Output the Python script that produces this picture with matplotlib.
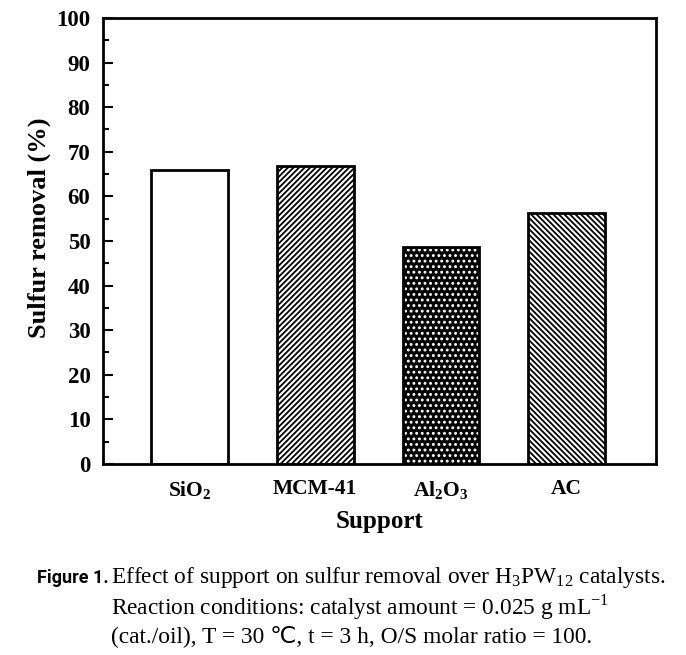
import matplotlib.pyplot as plt
from matplotlib import font_manager
from matplotlib.ticker import MultipleLocator

# Data
supports = ['SiO$_\\mathbf{2}$', 'MCM-41', 'Al$_\\mathbf{2}$O$_\\mathbf{3}$', 'AC']
removal = [66.0, 66.8, 48.6, 56.3]
hatches = ['', '//////', '...', '\\\\\\\\\\\\']
faces = ['white', 'white', 'black', 'white']
hatch_cols = ['black', 'black', 'white', 'black']

plt.rcParams['font.family'] = 'Liberation Serif'
plt.rcParams['mathtext.fontset'] = 'custom'
plt.rcParams['mathtext.rm'] = 'Liberation Serif'
plt.rcParams['mathtext.bf'] = 'Liberation Serif:bold'
plt.rcParams['hatch.linewidth'] = 1.3

# narrow sans for the "Figure 1." tag, if available
installed = {f.name for f in font_manager.fontManager.ttflist}
tag_font = 'Liberation Sans Narrow' if 'Liberation Sans Narrow' in installed else 'Roboto'

fig = plt.figure(figsize=(6.86, 6.55), dpi=100)
ax = fig.add_axes([0.150, 0.2916, 0.806, 0.681])

x = list(range(len(supports)))
for i in x:
    # hatch drawn in edge colour, then a black outline on top
    ax.bar(i, removal[i], width=0.61, color=faces[i], edgecolor=hatch_cols[i],
           hatch=hatches[i], linewidth=0)
    ax.bar(i, removal[i], width=0.61, fill=False, edgecolor='black', linewidth=2)

ax.set_xlim(-0.69, 3.71)
ax.set_ylim(0, 100)
ax.yaxis.set_major_locator(MultipleLocator(10))
ax.yaxis.set_minor_locator(MultipleLocator(5))
ax.tick_params(axis='y', which='both', direction='in', width=1.5, pad=9)
ax.tick_params(axis='y', which='major', length=7)
ax.tick_params(axis='y', which='minor', length=4)
ax.tick_params(axis='x', length=0, pad=11)
ax.set_xticks(x)
ax.set_xticklabels(supports, fontsize=15.5, fontweight='bold')
for lab in ax.get_yticklabels():
    lab.set_fontsize(16.5)
    lab.set_fontweight('bold')
for sp in ax.spines.values():
    sp.set_linewidth(2)

ax.set_xlabel('Support', fontsize=18, fontweight='bold', labelpad=6)
ax.set_ylabel('Sulfur removal (%)', fontsize=19, fontweight='bold')
ax.yaxis.set_label_coords(-0.093, 0.53)

# Caption
fig.text(37 / 686, 1 - 578 / 655, 'Figure 1.', fontsize=13, fontweight='bold',
         family=tag_font, va='center', ha='left')
fig.text(111 / 686, 1 - 578 / 655,
         'Effect of support on sulfur removal over H$_3$PW$_{12}$ catalysts.',
         fontsize=16.8, va='center', ha='left')
fig.text(111 / 686, 1 - 607 / 655,
         'Reaction conditions: catalyst amount = 0.025 g mL$^{-1}$',
         fontsize=16.8, va='center', ha='left')
fig.text(111 / 686, 1 - 636 / 655,
         '(cat./oil), T = 30 \u2103, t = 3 h, O/S molar ratio = 100.',
         fontsize=16.8, va='center', ha='left',
         family=['Liberation Serif', 'DejaVu Sans'])

fig.savefig('out.png', dpi=100)
